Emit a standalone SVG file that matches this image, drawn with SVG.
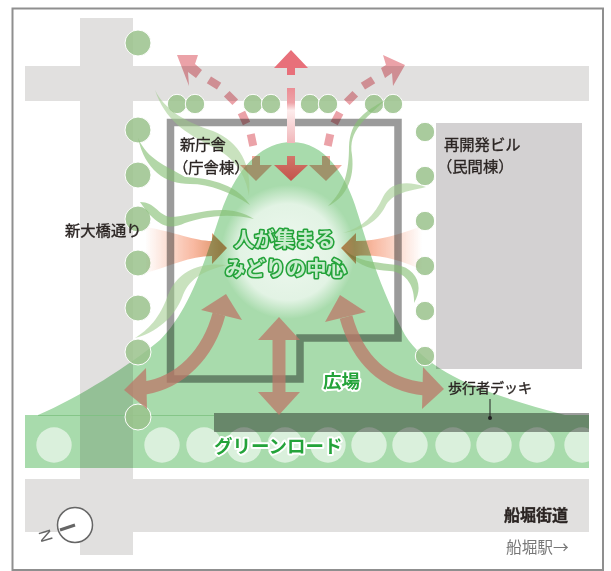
<svg xmlns="http://www.w3.org/2000/svg" width="611" height="571" viewBox="0 0 611 571">
<defs>
<style>
.road{fill:#e1e0df}
.tree{fill:#9ac28c;fill-opacity:.85;stroke:#fff;stroke-width:1}
.leaf{fill:#84bf72;opacity:.62}
.leafl{fill:#9ccb88;opacity:.55}
.blob{fill:#fff;fill-opacity:.58}
.dash{fill:#eba2a8;mix-blend-mode:multiply}
.br{opacity:.75}
.br path{fill:none;stroke:#bd7869;stroke-width:13}
.br polygon{fill:#bd7869}
.side{fill:#f2ab9f;mix-blend-mode:multiply}
.fan{mix-blend-mode:multiply}
.t{font-family:"Noto Sans CJK JP","Noto Sans",sans-serif;font-weight:400;fill:#2b2523;stroke:#2b2523;stroke-width:.35;font-size:15.3px}
.g{font-family:"Noto Sans CJK JP","Noto Sans",sans-serif;font-weight:700;fill:#24a33a;stroke:#fff;stroke-width:4;paint-order:stroke;stroke-linejoin:round}
.c{font-family:"Noto Sans CJK JP","Noto Sans",sans-serif;font-weight:700;fill:#c9ecce;stroke:#24a33a;stroke-width:3.200;paint-order:stroke;stroke-linejoin:round}
</style>
<radialGradient id="glow" cx="288" cy="252" r="67" gradientUnits="userSpaceOnUse">
<stop offset="0" stop-color="#eef8ef"/><stop offset=".72" stop-color="#e2f3e4"/><stop offset="1" stop-color="#e2f3e4" stop-opacity="0"/>
</radialGradient>
<linearGradient id="fanL" x1="145" x2="227" y1="0" y2="0" gradientUnits="userSpaceOnUse">
<stop offset="0" stop-color="#f8b8a0" stop-opacity="0"/><stop offset=".6" stop-color="#f8b8a0"/><stop offset="1" stop-color="#d88a5a"/>
</linearGradient>
<linearGradient id="fanR" x1="422" x2="341" y1="0" y2="0" gradientUnits="userSpaceOnUse">
<stop offset="0" stop-color="#f8b8a0" stop-opacity="0"/><stop offset=".6" stop-color="#f8b8a0"/><stop offset="1" stop-color="#d88a5a"/>
</linearGradient>
<linearGradient id="vert" x1="0" x2="0" y1="68" y2="145" gradientUnits="userSpaceOnUse">
<stop offset="0" stop-color="#e8707a"/><stop offset=".45" stop-color="#eea3a8"/><stop offset=".55" stop-color="#fdecec"/><stop offset="1" stop-color="#f0b4b8"/>
</linearGradient>
<linearGradient id="mid" x1="0" x2="0" y1="156" y2="181" gradientUnits="userSpaceOnUse">
<stop offset="0" stop-color="#d2766a"/><stop offset="1" stop-color="#c4534b"/>
</linearGradient>
<clipPath id="gr"><rect x="25" y="415" width="564" height="53"/></clipPath>
</defs>
<rect width="611" height="571" fill="#fff"/>
<rect x="12.5" y="8.5" width="590.5" height="561.5" fill="none" stroke="#8f8f8f" stroke-width="2"/>
<g id="roads">
<rect class="road" x="80" y="18" width="53" height="537"/>
<rect class="road" x="25" y="66" width="564" height="35"/>
<rect class="road" x="25" y="479" width="564" height="53"/>
</g>
<g id="building-east">
<rect x="436" y="123" width="146" height="246" fill="#d3d1d2"/>
<text class="t" x="444" y="150">再開発ビル</text>
<text class="t" x="437" y="172">（民間棟）</text>
</g>
<g id="green-area" style="mix-blend-mode:multiply">
<rect x="25" y="415" width="564" height="53" fill="#a8dbac"/>
<path d="M38 415C80 397 130 365 160 340C190 310 205 260 220 215C235 170 260 142 292 142C325 142 345 175 355 205C368 245 378 285 405 335C430 375 490 395 565 415Z" fill="#a8dbac"/>
</g>
<line x1="38" y1="415.5" x2="214" y2="415.5" stroke="#7cc07f" stroke-width=".8"/>
<g id="road-circles" clip-path="url(#gr)">
<circle class="blob" cx="54" cy="445" r="17.7"/><circle class="blob" cx="162" cy="445" r="17.7"/><circle class="blob" cx="204" cy="445" r="17.7"/><circle class="blob" cx="244" cy="445" r="17.7"/><circle class="blob" cx="285" cy="445" r="17.7"/><circle class="blob" cx="328" cy="445" r="17.7"/><circle class="blob" cx="369" cy="445" r="17.7"/><circle class="blob" cx="410" cy="445" r="17.7"/><circle class="blob" cx="453" cy="445" r="17.7"/><circle class="blob" cx="494" cy="445" r="17.7"/><circle class="blob" cx="537" cy="445" r="17.7"/><circle class="blob" cx="582" cy="445" r="17.7"/>
</g>
<circle id="glow-centre" cx="288" cy="252" r="67" fill="url(#glow)"/>
<g id="building-frame" style="mix-blend-mode:multiply">
<path d="M170.500 379V122.500H398V338H300V379Z" fill="none" stroke="#9b9b9b" stroke-width="7.500"/>
</g>
<g id="deck" style="mix-blend-mode:multiply">
<rect x="214" y="413" width="375" height="19" fill="#9d9d9d"/>
</g>
<g id="trees">
<circle class="tree" cx="138" cy="43" r="13"/><circle class="tree" cx="138" cy="130" r="13"/><circle class="tree" cx="138" cy="175" r="13"/><circle class="tree" cx="138" cy="219" r="13"/><circle class="tree" cx="138" cy="263" r="13"/><circle class="tree" cx="138" cy="308" r="13"/><circle class="tree" cx="138" cy="352" r="13"/><circle class="tree" cx="138" cy="417" r="13"/>
<circle class="tree" cx="177" cy="104" r="9.700"/><circle class="tree" cx="195" cy="104" r="9.700"/><circle class="tree" cx="253" cy="104" r="9.700"/><circle class="tree" cx="271" cy="104" r="9.700"/><circle class="tree" cx="310" cy="104" r="9.700"/><circle class="tree" cx="328" cy="104" r="9.700"/><circle class="tree" cx="374" cy="104" r="9.700"/><circle class="tree" cx="393" cy="104" r="9.700"/>
<circle class="tree" cx="425" cy="132" r="9.700"/><circle class="tree" cx="425" cy="176" r="9.700"/><circle class="tree" cx="425" cy="221" r="9.700"/><circle class="tree" cx="425" cy="266" r="9.700"/><circle class="tree" cx="425" cy="311" r="9.700"/><circle class="tree" cx="425" cy="356" r="9.700"/>
</g>
<g id="leaves">
<path class="leafl" d="M155 90C165 110 185 122 213 131C240 142 252 165 249 196C246 175 235 158 213 147C185 133 165 120 155 90Z"/>
<path class="leaf" d="M138 138C148 160 165 165 185 177C205 178 235 182 250 205C230 192 210 184 190 184C165 184 145 170 138 138Z"/>
<path class="leaf" d="M140 202C155 202 158 215 170 217C190 217 225 200 254 219C225 212 200 218 185 223C170 230 158 228 140 202Z"/>
<path class="leafl" d="M227 265C200 262 178 270 168 295C160 318 148 330 135 338C155 333 175 318 183 295C190 278 205 270 227 265Z"/>
<path class="leaf" d="M385 100C365 112 350 120 349 147C349 170 345 190 328 206C345 198 355 180 352 155C348 130 365 120 385 100Z"/>
<path class="leafl" d="M426 187C405 180 390 183 383 197C375 215 362 228 343 233C365 230 378 220 385 207C392 193 405 192 426 187Z"/>
<path class="leaf" d="M342 247C355 262 375 262 397 265C415 268 425 285 414 303C415 285 405 272 390 271C370 270 355 265 342 247Z"/>
</g>
<g id="flow-connectors">
<path class="fan" d="M146 227C175 232 195 241 212 241V233L227 248L212 264V256C190 256 170 266 146 273Z" fill="url(#fanL)"/>
<path class="fan" d="M422 226C400 234 380 241 356 241V233L341 248L356 264V256C380 254 400 260 422 270Z" fill="url(#fanR)"/>
<g class="br"><path d="M219 314C208 355 180 382 145 388"/><polygon points="226,294 201,310 242,320"/><polygon points="124,390 146,368 147,409"/></g>
<g class="br"><path d="M346 317C358 360 385 385 425 389"/><polygon points="340,295 325,322 366,312"/><polygon points="444,389 423,367 422,409"/></g>
<g class="br"><path d="M279 335V397"/><polygon points="279,317 258,340 300,340"/><polygon points="279,415 258,392 300,392"/></g>
<polygon points="291,50 274,68 287,68 287,75 295,75 295,68 308,68" fill="#e8707a"/>
<rect x="287" y="88" width="8" height="55" fill="url(#vert)"/>
<polygon class="dash" points="177,55 198,55 195,64 202,70 196,78 188,72 189,86"/>
<rect class="dash" x="208" y="79" width="12" height="8" transform="rotate(32 214 83)"/>
<rect class="dash" x="225" y="94" width="12" height="8" transform="rotate(45 231 98)"/>
<rect class="dash" x="238" y="114" width="12" height="8" transform="rotate(65 244 118)"/>
<rect class="dash" x="246" y="136" width="12" height="8" transform="rotate(78 252 140)"/>
<polygon class="dash" points="405,65 383,55 386,65 381,68 385,78 392,73 393,86"/>
<rect class="dash" x="362" y="79" width="12" height="8" transform="rotate(-32 368 83)"/>
<rect class="dash" x="345" y="94" width="12" height="8" transform="rotate(-45 351 98)"/>
<rect class="dash" x="331" y="114" width="12" height="8" transform="rotate(-62 337 118)"/>
<rect class="dash" x="323" y="136" width="12" height="8" transform="rotate(-78 329 140)"/>
<polygon class="side" points="256,181 240,165 252,165 252,156 260,156 260,165 272,165"/>
<polygon class="side" points="326,181 309,165 322,165 322,156 330,156 330,165 342,165"/>
<polygon points="291,181 274,165 287,165 287,156 295,156 295,165 308,165" fill="url(#mid)"/>
<line x1="490" y1="399" x2="490" y2="418" stroke="#222" stroke-width="1"/>
<circle cx="490" cy="418" r="2" fill="#222"/>
</g>
<g id="labels">
<text class="t" x="180" y="150">新庁舎</text>
<text class="t" x="173" y="173">（庁舎棟）</text>
<text class="t" x="65" y="236">新大橋通り</text>
<text class="t" x="448" y="393" style="font-size:14px">歩行者デッキ</text>
<text class="t" x="504" y="521" style="font-size:16px;font-weight:700">船堀街道</text>
<text class="t" x="506" y="553" style="fill:#777;stroke:none;font-size:15.700px">船堀駅→</text>
<text class="c" x="234" y="247" font-size="20.300">人が集まる</text>
<text class="c" x="225" y="276" font-size="20.300">みどりの中心</text>
<text class="g" x="323" y="388" font-size="18.500">広場</text>
<text class="g" x="214" y="453" font-size="18.500">グリーンロード</text>
</g>
<g id="compass">
<circle cx="75" cy="525" r="17.500" fill="#fff" stroke="#666" stroke-width="1.500"/>
<line x1="60" y1="530" x2="75" y2="525" stroke="#666" stroke-width="3"/>
<text transform="translate(53 540) rotate(-107)" font-family="Liberation Sans,sans-serif" font-size="17" fill="#666">N</text>
</g>
</svg>
